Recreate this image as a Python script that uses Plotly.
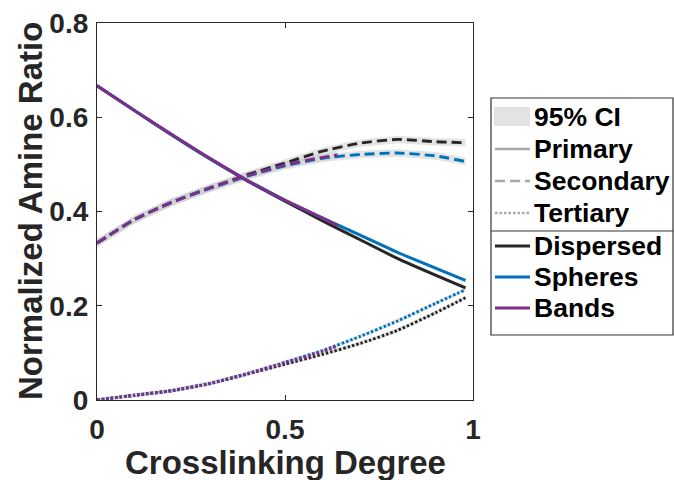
import plotly.graph_objects as go

# ---------------- data ----------------
x_full = [0, 0.1, 0.2, 0.3, 0.4, 0.5, 0.6, 0.7, 0.8, 0.9, 0.98]
x_bands = [0, 0.1, 0.2, 0.3, 0.4, 0.5, 0.6, 0.64]

disp_primary = [0.667, 0.614, 0.562, 0.512, 0.465, 0.422, 0.380, 0.340, 0.300, 0.265, 0.238]
disp_secondary = [0.333, 0.383, 0.420, 0.450, 0.478, 0.503, 0.528, 0.545, 0.553, 0.548, 0.546]
disp_tertiary = [0.0, 0.010, 0.020, 0.035, 0.055, 0.076, 0.097, 0.120, 0.148, 0.185, 0.217]

sph_primary = [0.667, 0.614, 0.562, 0.512, 0.466, 0.424, 0.386, 0.350, 0.313, 0.280, 0.254]
sph_secondary = [0.333, 0.383, 0.420, 0.449, 0.475, 0.497, 0.513, 0.521, 0.524, 0.518, 0.506]
sph_tertiary = [0.0, 0.010, 0.020, 0.035, 0.056, 0.080, 0.105, 0.135, 0.168, 0.205, 0.234]

band_primary = [0.667, 0.614, 0.563, 0.513, 0.466, 0.424, 0.386, 0.370]
band_secondary = [0.333, 0.383, 0.420, 0.450, 0.476, 0.499, 0.515, 0.520]
band_tertiary = [0.0, 0.010, 0.020, 0.035, 0.056, 0.079, 0.103, 0.115]

ci_half_secondary = 0.008
ci_half_other = 0.004

series_names = ["Dispersed", "Spheres", "Bands"]
series_colors = ["#262626", "#0072BD", "#7E2F8E"]
type_names = ["Primary", "Secondary", "Tertiary"]
x_ticks = [0, 0.5, 1]
x_ticktext = ["0", "0.5", "1"]
y_ticks = [0, 0.2, 0.4, 0.6, 0.8]
y_ticktext = ["0", "0.2", "0.4", "0.6", "0.8"]

series = [
    (x_full, [disp_primary, disp_secondary, disp_tertiary]),
    (x_full, [sph_primary, sph_secondary, sph_tertiary]),
    (x_bands, [band_primary, band_secondary, band_tertiary]),
]
dashes = ["solid", "10px,5px", "2.5px,2px"]

fig = go.Figure()

# CI bands
for xs, ys_list in series:
    for k, ys in enumerate(ys_list):
        h = ci_half_secondary if k == 1 else ci_half_other
        upper = [v + h for v in ys]
        lower = [max(v - h, 0) for v in ys]
        fig.add_trace(go.Scatter(
            x=list(xs) + list(xs)[::-1], y=upper + lower[::-1],
            fill="toself", fillcolor="rgba(205,205,205,0.55)",
            line=dict(width=0), mode="lines", hoverinfo="skip", showlegend=False))

# lines
for (xs, ys_list), name, col in zip(series, series_names, series_colors):
    for k, ys in enumerate(ys_list):
        fig.add_trace(go.Scatter(
            x=xs, y=ys, mode="lines", name=f"{name} {type_names[k]}",
            line=dict(color=col, width=2.9, dash=dashes[k], shape="spline", smoothing=0.6),
            showlegend=False))

# ---------------- layout ----------------
L, R, T, B = 97, 473, 23, 400
W, H = 674, 480
pw, ph = R - L, B - T

def px(xp):
    return (xp - L) / pw

def py(yp):
    return (B - yp) / ph

font = "Liberation Sans, Arial, sans-serif"

shapes = []
annotations = []
# legend box
shapes.append(dict(type="rect", xref="paper", yref="paper",
                   x0=px(491), x1=px(673), y0=py(335), y1=py(98),
                   line=dict(color="#333333", width=1.2), fillcolor="white", layer="above"))
shapes.append(dict(type="line", xref="paper", yref="paper",
                   x0=px(491), x1=px(673), y0=py(231), y1=py(231),
                   line=dict(color="#333333", width=1.2), layer="above"))
# CI patch
shapes.append(dict(type="rect", xref="paper", yref="paper",
                   x0=px(494), x1=px(530), y0=py(126), y1=py(107),
                   line=dict(width=0), fillcolor="#e3e3e3", layer="above"))
rows_y = [117, 149, 181, 213, 246, 277, 308]
labels = ["95% CI"] + type_names + series_names
for i, (yy, lab) in enumerate(zip(rows_y, labels)):
    if 1 <= i <= 3:
        shapes.append(dict(type="line", xref="paper", yref="paper",
                           x0=px(495), x1=px(530), y0=py(yy), y1=py(yy),
                           line=dict(color="#a8a8a8", width=2.6, dash=dashes[i - 1]),
                           layer="above"))
    elif i >= 4:
        shapes.append(dict(type="line", xref="paper", yref="paper",
                           x0=px(495), x1=px(530), y0=py(yy), y1=py(yy),
                           line=dict(color=series_colors[i - 4], width=2.8),
                           layer="above"))
    annotations.append(dict(xref="paper", yref="paper", x=px(532), y=py(yy),
                            text=f"<b>{lab}</b>", showarrow=False,
                            xanchor="left", yanchor="middle",
                            font=dict(family=font, size=26.5, color="black")))

# axis titles as annotations for exact placement
annotations.append(dict(xref="paper", yref="paper", x=px(285), y=py(462),
                        text="<b>Crosslinking Degree</b>", showarrow=False,
                        xanchor="center", yanchor="middle",
                        font=dict(family=font, size=33, color="#262626")))
annotations.append(dict(xref="paper", yref="paper", x=px(30), y=py(211),
                        text="<b>Normalized Amine Ratio</b>", showarrow=False,
                        textangle=-90, xanchor="center", yanchor="middle",
                        font=dict(family=font, size=33, color="#262626")))

axis_common = dict(showline=True, linecolor="#262626", linewidth=1.2, mirror="ticks",
                   ticks="inside", ticklen=5, tickcolor="#262626", showgrid=False,
                   zeroline=False, tickfont=dict(family=font, size=28, color="#262626"))

fig.update_layout(
    width=W, height=H,
    margin=dict(l=L, r=W - R, t=T, b=H - B, autoexpand=False),
    paper_bgcolor="white", plot_bgcolor="white",
    showlegend=False,
    shapes=shapes, annotations=annotations,
    xaxis=dict(range=[0, 1], tickvals=x_ticks, ticktext=[f"<b>{t}</b>" for t in x_ticktext],
               ticklabelstandoff=4, **axis_common),
    yaxis=dict(range=[0, 0.8], tickvals=y_ticks, ticktext=[f"<b>{t}</b>" for t in y_ticktext],
               ticklabelstandoff=2, **axis_common),
)

fig.write_html("out.html")
